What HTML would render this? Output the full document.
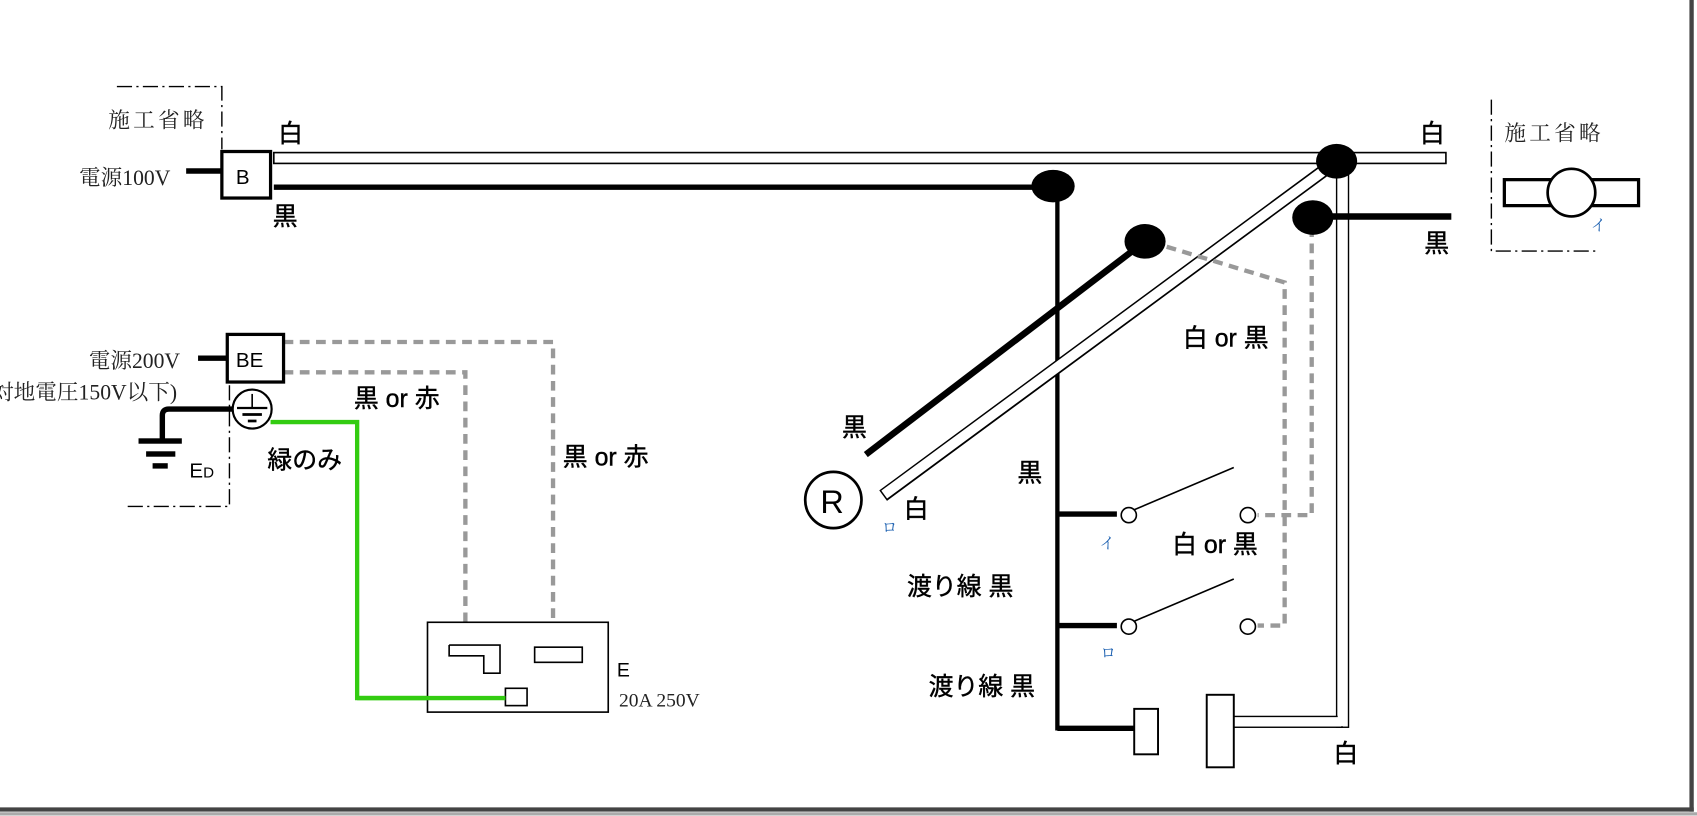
<!DOCTYPE html>
<html><head><meta charset="utf-8"><style>
html,body{margin:0;padding:0;background:#fff;width:1697px;height:816px;overflow:hidden}
svg{display:block}
.j{font-family:"Liberation Sans","Noto Sans CJK JP",sans-serif;font-size:23px;fill:#000;stroke:#000;stroke-width:0.4}
.s{font-family:"Liberation Serif","Noto Serif CJK SC",serif;font-size:20px;fill:#222}
.b{fill:#1a5fb0;font-family:"Liberation Serif","Noto Serif CJK SC",serif;font-size:14px}
</style></head><body>
<svg width="1697" height="816" viewBox="0 0 1568 754" preserveAspectRatio="none" xmlns="http://www.w3.org/2000/svg">
<rect width="1568" height="754" fill="#fff"/>
<line x1="1563" y1="0" x2="1563" y2="750" stroke="#444" stroke-width="4"/>
<line x1="0" y1="748" x2="1565" y2="748" stroke="#444" stroke-width="4"/>
<line x1="0" y1="752" x2="1568" y2="752" stroke="#aaa" stroke-width="3"/>

<polyline points="108,80 205,80 205,138" fill="none" stroke="#000" stroke-width="1.3" stroke-dasharray="14,4,2,4"/>
<text class="s" x="100" y="118" style="letter-spacing:3px">施工省略</text>
<text class="s" x="73" y="171">電源100V</text>
<line x1="172" y1="158" x2="205" y2="158" stroke="#000" stroke-width="5"/>
<rect x="205" y="140" width="45" height="43" fill="#fff" stroke="#000" stroke-width="3"/>
<text class="j" x="218" y="170" style="font-size:19px;stroke-width:0">B</text>
<text class="j" x="257" y="131">白</text>
<text class="j" x="252" y="208">黒</text>

<rect x="253" y="141" width="1083" height="10" fill="#fff" stroke="#000" stroke-width="1.5"/>
<line x1="253" y1="173" x2="973" y2="173" stroke="#000" stroke-width="5"/>
<line x1="977" y1="172" x2="977" y2="675" stroke="#000" stroke-width="4"/>

<line x1="1235" y1="149" x2="816" y2="458" stroke="#000" stroke-width="12"/>
<line x1="1235" y1="149" x2="817" y2="457" stroke="#fff" stroke-width="9"/>
<rect x="1235" y="152" width="11" height="520" fill="#fff" stroke="#000" stroke-width="1.3"/>
<rect x="1140" y="662" width="100" height="10" fill="#fff" stroke="#000" stroke-width="1.3"/>
<rect x="1236" y="153" width="9" height="518" fill="#fff"/>

<line x1="1058" y1="223" x2="800" y2="420" stroke="#000" stroke-width="6"/>
<text class="j" x="778" y="403">黒</text>
<circle cx="770" cy="462" r="26" fill="#fff" stroke="#000" stroke-width="2.5"/>
<text class="j" x="758" y="474" style="font-size:30px;stroke-width:0">R</text>
<text class="j" x="835" y="478">白</text>
<text class="b" x="815" y="492">ロ</text>

<g fill="none" stroke="#999" stroke-width="4" stroke-dasharray="9,6">
<polyline points="1078,228 1187,261 1187,578 1162,578"/>
<polyline points="1212,210 1212,476 1162,476"/>
<polyline points="262,316 511,316 511,585"/>
<polyline points="262,344 430,344 430,585"/>
</g>

<ellipse cx="973" cy="172" rx="20" ry="15" fill="#000"/>
<ellipse cx="1235" cy="149" rx="19" ry="16" fill="#000"/>
<ellipse cx="1213" cy="201" rx="19" ry="16" fill="#000"/>
<ellipse cx="1058" cy="223" rx="19" ry="16" fill="#000"/>
<line x1="1213" y1="200" x2="1341" y2="200" stroke="#000" stroke-width="6"/>
<text class="j" x="1316" y="233">黒</text>
<text class="j" x="1312" y="131">白</text>
<text class="j" x="1093" y="320">白 or 黒</text>

<line x1="977" y1="475" x2="1032" y2="475" stroke="#000" stroke-width="5"/>
<line x1="1048" y1="471" x2="1140" y2="432" stroke="#000" stroke-width="1.5"/>
<circle cx="1043" cy="476" r="7" fill="#fff" stroke="#000" stroke-width="1.5"/>
<circle cx="1153" cy="476" r="7" fill="#fff" stroke="#000" stroke-width="1.5"/>
<line x1="977" y1="578" x2="1032" y2="578" stroke="#000" stroke-width="5"/>
<line x1="1048" y1="574" x2="1140" y2="535" stroke="#000" stroke-width="1.5"/>
<circle cx="1043" cy="579" r="7" fill="#fff" stroke="#000" stroke-width="1.5"/>
<circle cx="1153" cy="579" r="7" fill="#fff" stroke="#000" stroke-width="1.5"/>
<text class="b" x="1016" y="507">イ</text>
<text class="b" x="1017" y="608">ロ</text>
<text class="j" x="940" y="445">黒</text>
<text class="j" x="1083" y="511">白 or 黒</text>
<text class="j" x="838" y="550">渡り線 黒</text>
<text class="j" x="858" y="642">渡り線 黒</text>

<line x1="977" y1="673" x2="1048" y2="673" stroke="#000" stroke-width="5"/>
<rect x="1048" y="655" width="22" height="42" fill="#fff" stroke="#000" stroke-width="1.8"/>
<rect x="1115" y="642" width="25" height="67" fill="#fff" stroke="#000" stroke-width="1.8"/>
<text class="j" x="1232" y="704">白</text>

<polyline points="1378,92 1378,232 1477,232" fill="none" stroke="#000" stroke-width="1.3" stroke-dasharray="14,4,2,4"/>
<text class="s" x="1390" y="130" style="letter-spacing:3px">施工省略</text>
<rect x="1390" y="166" width="124" height="24" fill="#fff" stroke="#000" stroke-width="3"/>
<ellipse cx="1452" cy="178" rx="22" ry="22" fill="#fff" stroke="#000" stroke-width="2.5"/>
<text class="b" x="1470" y="213">イ</text>

<text class="s" x="82" y="340">電源200V</text>
<text class="s" x="-14" y="369">(対地電圧150V以下)</text>
<line x1="183" y1="331" x2="210" y2="331" stroke="#000" stroke-width="5"/>
<rect x="210" y="309" width="52" height="44" fill="#fff" stroke="#000" stroke-width="3"/>
<text class="j" x="218" y="339" style="font-size:19px;stroke-width:0">BE</text>
<polyline points="118,468 212,468 212,353" fill="none" stroke="#000" stroke-width="1.3" stroke-dasharray="14,4,2,4"/>
<path d="M215,378 L156,378 Q150,378 150,384 L150,407" fill="none" stroke="#000" stroke-width="5"/>
<rect x="128" y="405" width="40" height="5" fill="#000"/>
<rect x="135" y="417" width="27" height="5" fill="#000"/>
<rect x="141" y="428" width="14" height="5" fill="#000"/>
<text class="j" x="175" y="441" style="font-size:19px;stroke-width:0">E<tspan style="font-size:14px">D</tspan></text>
<circle cx="233" cy="378" r="18" fill="#fff" stroke="#000" stroke-width="2"/>
<line x1="233" y1="364" x2="233" y2="377" stroke="#000" stroke-width="1.5"/>
<line x1="219" y1="377" x2="247" y2="377" stroke="#000" stroke-width="2"/>
<line x1="224" y1="383" x2="242" y2="383" stroke="#000" stroke-width="2.5"/>
<line x1="229" y1="389" x2="237" y2="389" stroke="#000" stroke-width="2.5"/>
<polyline points="250,390 330,390 330,645 467,645" fill="none" stroke="#33cc11" stroke-width="4"/>
<text class="j" x="247" y="433">緑のみ</text>
<text class="j" x="327" y="376">黒 or 赤</text>
<text class="j" x="520" y="430">黒 or 赤</text>

<rect x="395" y="575" width="167" height="83" fill="#fff" stroke="#000" stroke-width="1.5"/>
<polyline points="415,596 462,596 462,622 447,622 447,606 415,606 415,596" fill="#fff" stroke="#000" stroke-width="1.5"/>
<rect x="494" y="598" width="44" height="14" fill="#fff" stroke="#000" stroke-width="1.5"/>
<rect x="467" y="636" width="20" height="16" fill="#fff" stroke="#000" stroke-width="1.5"/>
<polyline points="330,645 467,645" fill="none" stroke="#33cc11" stroke-width="4"/>
<text class="j" x="570" y="625" style="font-size:18px;stroke-width:0">E</text>
<text class="s" x="572" y="653" style="font-size:18px">20A 250V</text>
</svg>
</body></html>
